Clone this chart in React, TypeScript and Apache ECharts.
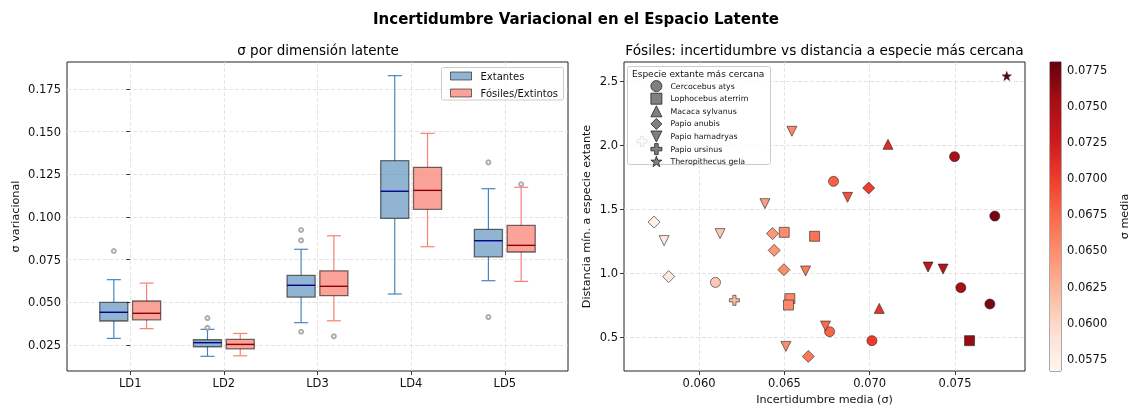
import React, { useEffect, useRef } from "react";
import * as echarts from "echarts";

// ---- Left panel: σ per latent dimension ----
const dims = ["LD1", "LD2", "LD3", "LD4", "LD5"];
// [lower whisker, q1, median, q3, upper whisker]
const extantBoxes = [
  [0.0289, 0.0391, 0.0442, 0.05, 0.0633],
  [0.0184, 0.024, 0.0264, 0.0281, 0.0342],
  [0.0381, 0.0531, 0.06, 0.0658, 0.0811],
  [0.0549, 0.0992, 0.1151, 0.133, 0.1828],
  [0.0627, 0.0767, 0.0861, 0.0928, 0.1166],
];
const fossilBoxes = [
  [0.0346, 0.0398, 0.0436, 0.0508, 0.0613],
  [0.0187, 0.0228, 0.0254, 0.0283, 0.0318],
  [0.0392, 0.0539, 0.0594, 0.0685, 0.089],
  [0.0826, 0.1045, 0.1156, 0.1291, 0.149],
  [0.0623, 0.0795, 0.0834, 0.0951, 0.1174],
];
// [dimension index, value]
const extantOutliers = [
  [0, 0.0801], [1, 0.0408], [1, 0.0351], [2, 0.0924], [2, 0.0863], [2, 0.0328], [4, 0.132], [4, 0.0414],
];
const fossilOutliers = [
  [2, 0.0301], [4, 0.1192],
];
const sigmaTicks = [0.025, 0.05, 0.075, 0.1, 0.125, 0.15, 0.175];

// ---- Right panel: fossils, [mean σ, min distance] ----
const cercocebusAtys = [
  [0.06788, 1.716], [0.06096, 0.927], [0.06765, 0.542], [0.07497, 1.909],
  [0.07733, 1.445], [0.07534, 0.886], [0.07704, 0.758], [0.07013, 0.472],
];
const lophocebusAterrim = [
  [0.06499, 1.318], [0.06677, 1.287], [0.06532, 0.8], [0.06524, 0.75], [0.07585, 0.472],
];
const macacaSylvanus = [
  [0.07107, 2.005], [0.07056, 0.724],
];
const papioAnubis = [
  [0.05736, 1.398], [0.0643, 1.308], [0.0644, 1.177], [0.06497, 1.026],
  [0.05822, 0.972], [0.0664, 0.349], [0.06994, 1.664],
];
const papioHamadryas = [
  [0.06544, 2.107], [0.06386, 1.542], [0.06123, 1.308], [0.05795, 1.253], [0.06624, 1.016],
  [0.06741, 0.586], [0.06509, 0.427], [0.0687, 1.591], [0.07342, 1.047], [0.0743, 1.031],
];
const papioUrsinus = [
  [0.06207, 0.787], [0.05666, 2.029],
];
const theropithecusGela = [
  [0.07803, 2.539],
];
const meanSigmaTicks = [0.06, 0.065, 0.07, 0.075];
const distanceTicks = [0.5, 1.0, 1.5, 2.0, 2.5];
const colorbarTicks = [0.0575, 0.06, 0.0625, 0.065, 0.0675, 0.07, 0.0725, 0.075, 0.0775];

const REDS = ["#fff5f0", "#fee0d2", "#fcbba1", "#fc9272", "#fb6a4a", "#ef3b2c", "#cb181d", "#a50f15", "#67000d"];

const TRI_DOWN = "path://M0,0H10L5,10Z";
const PLUS = "path://M3.4,0H6.6V3.4H10V6.6H6.6V10H3.4V6.6H0V3.4H3.4Z";
const STAR =
  "path://M5,0L6.18,3.38L9.76,3.45L6.9,5.62L7.94,9.05L5,7L2.06,9.05L3.1,5.62L0.24,3.45L3.82,3.38Z";

const speciesGroups = [
  { name: "Cercocebus atys", data: cercocebusAtys, symbol: "circle", size: 10 },
  { name: "Lophocebus aterrim", data: lophocebusAterrim, symbol: "rect", size: 10 },
  { name: "Macaca sylvanus", data: macacaSylvanus, symbol: "triangle", size: 10 },
  { name: "Papio anubis", data: papioAnubis, symbol: "diamond", size: 12 },
  { name: "Papio hamadryas", data: papioHamadryas, symbol: TRI_DOWN, size: 10 },
  { name: "Papio ursinus", data: papioUrsinus, symbol: PLUS, size: 10 },
  { name: "Theropithecus gela", data: theropithecusGela, symbol: STAR, size: 9 },
];

const FONT = "DejaVu Sans";
const BOX_W = 0.3;
const BOX_OFFSET = 0.175;
const EXT_FILL = "rgba(70,130,180,0.6)";
const FOS_FILL = "rgba(250,128,114,0.72)";
const BOX_EDGE = "rgba(0,0,0,0.55)";

const gridLine = { show: true, lineStyle: { color: "#dedede", type: [4, 2], width: 0.8 } };
const tick = { show: true, inside: false, length: 4, lineStyle: { color: "#222", width: 0.9 } };
const label = { color: "#111", fontSize: 11.5, fontFamily: FONT, margin: 6 };
const axisName = { fontSize: 11.2, color: "#111", fontFamily: FONT };

function boxRenderer(offset: number, fill: string, whisker: string, median: string) {
  return (params: any, api: any) => {
    const x = api.value(0) + offset;
    const half = api.size([BOX_W, 0])[0] / 2;
    const cap = half / 2;
    const [cx, yLo] = api.coord([x, api.value(1)]);
    const yQ1 = api.coord([x, api.value(2)])[1];
    const yMed = api.coord([x, api.value(3)])[1];
    const yQ3 = api.coord([x, api.value(4)])[1];
    const yHi = api.coord([x, api.value(5)])[1];
    const ws = { stroke: whisker, lineWidth: 1.2 };
    return {
      type: "group",
      children: [
        { type: "line", shape: { x1: cx, y1: yLo, x2: cx, y2: yQ1 }, style: ws },
        { type: "line", shape: { x1: cx, y1: yQ3, x2: cx, y2: yHi }, style: ws },
        { type: "line", shape: { x1: cx - cap, y1: yLo, x2: cx + cap, y2: yLo }, style: ws },
        { type: "line", shape: { x1: cx - cap, y1: yHi, x2: cx + cap, y2: yHi }, style: ws },
        {
          type: "rect",
          shape: { x: cx - half, y: yQ3, width: half * 2, height: yQ1 - yQ3 },
          style: { fill, stroke: BOX_EDGE, lineWidth: 1.3 },
        },
        { type: "line", shape: { x1: cx - half, y1: yMed, x2: cx + half, y2: yMed }, style: { stroke: median, lineWidth: 1.4 } },
      ],
    };
  };
}

export default function App() {
  const ref = useRef<HTMLDivElement>(null);

  useEffect(() => {
    if (!ref.current) return;
    const chart = echarts.init(ref.current, undefined, { renderer: "svg" });

    const allX = speciesGroups.flatMap((g) => g.data.map((d) => d[0]));
    const vmin = Math.min(...allX);
    const vmax = Math.max(...allX);

    const speciesSeries = speciesGroups.map((g) => ({
      type: "scatter",
      name: g.name,
      xAxisIndex: 1,
      yAxisIndex: 1,
      symbol: g.symbol,
      symbolSize: g.size,
      data: g.data,
      itemStyle: { borderColor: "#222", borderWidth: 0.6, opacity: 1 },
      emphasis: { disabled: true },
      z: 2,
    }));

    const option: any = {
      animation: false,
      textStyle: { fontFamily: FONT },
      graphic: [
        {
          type: "text", x: 576, y: 19, z: 10,
          style: { text: "Incertidumbre Variacional en el Espacio Latente", font: `bold 15px "${FONT}"`, fill: "#000", textAlign: "center", textVerticalAlign: "middle" },
        },
        {
          type: "text", x: 318, y: 50, z: 10,
          style: { text: "σ por dimensión latente", font: `13.5px "${FONT}"`, fill: "#000", textAlign: "center", textVerticalAlign: "middle" },
        },
        {
          type: "text", x: 824.5, y: 50, z: 10,
          style: { text: "Fósiles: incertidumbre vs distancia a especie más cercana", font: `13.7px "${FONT}"`, fill: "#000", textAlign: "center", textVerticalAlign: "middle" },
        },
        {
          type: "rect", z: 3,
          shape: { x: 441.5, y: 67.5, width: 122, height: 32.5, r: 2 },
          style: { fill: "rgba(255,255,255,0.8)", stroke: "#cccccc", lineWidth: 1 },
        },
        {
          type: "rect", z: 3,
          shape: { x: 627.5, y: 66.5, width: 143, height: 98, r: 2 },
          style: { fill: "rgba(255,255,255,0.8)", stroke: "#cccccc", lineWidth: 1 },
        },
        {
          type: "text", x: 632, y: 74, z: 10,
          style: { text: "Especie extante más cercana", font: `9px "${FONT}"`, fill: "#111", textAlign: "left", textVerticalAlign: "middle" },
        },
      ],
      grid: [
        { left: 67, top: 62, width: 501, height: 309, show: true, borderColor: "#222", borderWidth: 1, backgroundColor: "transparent" },
        { left: 624, top: 62, width: 401, height: 309, show: true, borderColor: "#222", borderWidth: 1, backgroundColor: "transparent" },
        { left: 1050, top: 62, width: 16, height: 309, show: true, borderColor: "#555", borderWidth: 1, backgroundColor: "transparent" },
      ],
      xAxis: [
        {
          type: "value", gridIndex: 0, min: -0.675, max: 4.675,
          axisLine: { show: false },
          axisTick: { ...tick, customValues: dims.map((_, i) => i) },
          axisLabel: { ...label, customValues: dims.map((_, i) => i), formatter: (v: number) => dims[Math.round(v)] ?? "" },
          splitLine: gridLine,
        },
        {
          type: "value", gridIndex: 1, min: 0.0556, max: 0.0791,
          name: "Incertidumbre media (σ)", nameLocation: "middle", nameGap: 23,
          nameTextStyle: axisName,
          axisLine: { show: false },
          axisTick: { ...tick, customValues: meanSigmaTicks },
          axisLabel: { ...label, customValues: meanSigmaTicks, formatter: (v: number) => v.toFixed(3) },
          splitLine: gridLine,
        },
        {
          type: "value", gridIndex: 2, min: 0, max: 1, show: false,
        },
      ],
      yAxis: [
        {
          type: "value", gridIndex: 0, min: 0.0098, max: 0.1908,
          name: "σ variacional", nameLocation: "middle", nameGap: 46, nameRotate: 90,
          nameTextStyle: axisName,
          axisLine: { show: false },
          axisTick: { ...tick, customValues: sigmaTicks },
          axisLabel: { ...label, customValues: sigmaTicks, formatter: (v: number) => v.toFixed(3) },
          splitLine: gridLine,
        },
        {
          type: "value", gridIndex: 1, min: 0.235, max: 2.648,
          name: "Distancia mín. a especie extante", nameLocation: "middle", nameGap: 32, nameRotate: 90,
          nameTextStyle: axisName,
          axisLine: { show: false },
          axisTick: { ...tick, customValues: distanceTicks },
          axisLabel: { ...label, customValues: distanceTicks, formatter: (v: number) => v.toFixed(1) },
          splitLine: gridLine,
        },
        {
          type: "value", gridIndex: 2, min: vmin, max: vmax, position: "right",
          name: "σ media", nameLocation: "middle", nameGap: 58, nameRotate: 90,
          nameTextStyle: axisName,
          axisLine: { show: false },
          axisTick: { ...tick, customValues: colorbarTicks },
          axisLabel: { ...label, customValues: colorbarTicks, formatter: (v: number) => v.toFixed(4) },
          splitLine: { show: false },
        },
      ],
      legend: [
        {
          left: 450, top: 71, orient: "vertical", itemWidth: 21, itemHeight: 8, itemGap: 7,
          padding: 0, z: 5, selectedMode: false,
          textStyle: { fontSize: 10, color: "#111", fontFamily: FONT, padding: [0, 0, 0, 4] },
          data: [
            { name: "Extantes", icon: "rect", itemStyle: { color: EXT_FILL, borderColor: BOX_EDGE, borderWidth: 1 } },
            { name: "Fósiles/Extintos", icon: "rect", itemStyle: { color: FOS_FILL, borderColor: BOX_EDGE, borderWidth: 1 } },
          ],
        },
        {
          left: 650.5, top: 80.2, orient: "vertical", itemWidth: 11, itemHeight: 11, itemGap: 0.8,
          padding: 0, z: 5, selectedMode: false,
          textStyle: { fontSize: 7.8, color: "#111", fontFamily: FONT, padding: [0, 0, 0, 3.5] },
          data: speciesGroups.map((g) => ({
            name: g.name,
            icon: g.symbol,
            itemStyle: { color: "#808080", borderColor: "#222", borderWidth: 0.8 },
          })),
        },
      ],
      visualMap: {
        type: "continuous", show: false, min: vmin, max: vmax, dimension: 0,
        seriesIndex: speciesGroups.map((_, i) => 4 + i),
        inRange: { color: REDS },
      },
      series: [
        {
          type: "custom", name: "Extantes", xAxisIndex: 0, yAxisIndex: 0,
          renderItem: boxRenderer(-BOX_OFFSET, EXT_FILL, "#4a86bd", "#00008b"),
          data: extantBoxes.map((b, i) => [i, ...b]),
          encode: { x: 0, y: [1, 2, 3, 4, 5] },
          itemStyle: { color: EXT_FILL }, z: 2,
        },
        {
          type: "custom", name: "Fósiles/Extintos", xAxisIndex: 0, yAxisIndex: 0,
          renderItem: boxRenderer(BOX_OFFSET, FOS_FILL, "#fa8072", "#8b0000"),
          data: fossilBoxes.map((b, i) => [i, ...b]),
          encode: { x: 0, y: [1, 2, 3, 4, 5] },
          itemStyle: { color: FOS_FILL }, z: 2,
        },
        {
          type: "scatter", name: "extant-outliers", xAxisIndex: 0, yAxisIndex: 0,
          symbol: "emptyCircle", symbolSize: 4,
          data: extantOutliers.map(([i, v]) => [i - BOX_OFFSET, v]),
          itemStyle: { color: "#999", borderColor: "#999", borderWidth: 1 },
          emphasis: { disabled: true },
        },
        {
          type: "scatter", name: "fossil-outliers", xAxisIndex: 0, yAxisIndex: 0,
          symbol: "emptyCircle", symbolSize: 4,
          data: fossilOutliers.map(([i, v]) => [i + BOX_OFFSET, v]),
          itemStyle: { color: "#999", borderColor: "#999", borderWidth: 1 },
          emphasis: { disabled: true },
        },
        ...speciesSeries,
        {
          type: "custom", name: "colorbar", xAxisIndex: 2, yAxisIndex: 2,
          data: [[0, vmin, vmax]],
          encode: { x: 0, y: [1, 2] },
          renderItem: (params: any, api: any) => {
            const [x0, yBottom] = api.coord([0, api.value(1)]);
            const [x1, yTop] = api.coord([1, api.value(2)]);
            return {
              type: "rect",
              shape: { x: x0, y: yTop, width: x1 - x0, height: yBottom - yTop },
              style: {
                fill: {
                  type: "linear", x: 0, y: 1, x2: 0, y2: 0,
                  colorStops: REDS.map((c, i) => ({ offset: i / (REDS.length - 1), color: c })),
                },
              },
            };
          },
          z: 1,
        },
      ],
    };

    chart.setOption(option);
    return () => chart.dispose();
  }, []);

  return <div ref={ref} style={{ position: "fixed", left: 0, top: 0, width: 1131, height: 410 }} />;
}
